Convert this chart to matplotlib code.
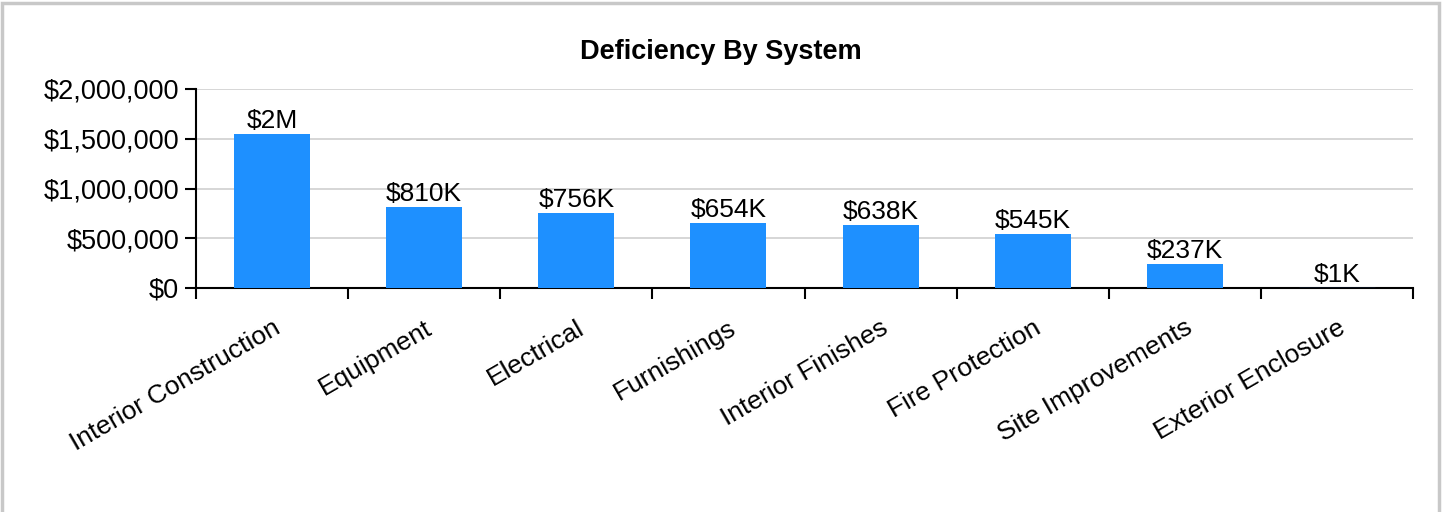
import numpy as np
import matplotlib.pyplot as plt
from matplotlib.ticker import FuncFormatter, MultipleLocator
from matplotlib.patches import Rectangle

systems = ['Interior Construction', 'Equipment', 'Electrical', 'Furnishings',
           'Interior Finishes', 'Fire Protection', 'Site Improvements',
           'Exterior Enclosure']
costs = [1550000, 810000, 756000, 654000, 638000, 545000, 237000, 1000]
labels = ['$2M', '$810K', '$756K', '$654K', '$638K', '$545K', '$237K', '$1K']

plt.rcParams['font.family'] = ['Liberation Sans', 'DejaVu Sans']

fig = plt.figure(figsize=(14.42, 5.12), dpi=100)
ax = fig.add_axes([196/1442, 1 - 288/512, (1413-196)/1442, (288-89)/512])

x = np.arange(len(systems))
ax.bar(x, costs, width=0.5, color='#1E90FF', edgecolor='#1a4f9a',
       linewidth=0, zorder=3)
ax.hlines(costs[-1], x[-1] - 0.25, x[-1] + 0.25, color='#1a3f7a', linewidth=1, zorder=3)
for xi, v, lb in zip(x, costs, labels):
  ax.text(xi, v + 10000, lb, ha='center', va='bottom', fontsize=19, zorder=4)

ax.set_xlim(-0.5, len(systems) - 0.5)
ax.set_ylim(0, 2000000)
ax.yaxis.set_major_locator(MultipleLocator(500000))
ax.yaxis.set_major_formatter(FuncFormatter(lambda v, p: '${:,.0f}'.format(v)))
ax.grid(axis='y', color='#d0d0d0', linewidth=1.2, zorder=0)

# ticks at category boundaries, labels at centres
ax.set_xticks(np.arange(len(systems) + 1) - 0.5)
ax.set_xticklabels([])
ax.set_xticks(x, minor=True)
ax.set_xticklabels(systems, minor=True, rotation=30, ha='right',
                   rotation_mode='anchor', fontsize=19)
ax.tick_params(axis='x', which='minor', length=0, pad=20)
ax.tick_params(axis='x', which='major', length=8, width=1.5, direction='out')
ax.tick_params(axis='y', length=8, width=1.5, direction='out', labelsize=19.5, pad=4)

for sp in ['top', 'right']:
  ax.spines[sp].set_visible(False)
for sp in ['left', 'bottom']:
  ax.spines[sp].set_linewidth(1.5)

fig.text(721/1442, 1 - 52/512, 'Deficiency By System', ha='center', va='center',
         fontsize=19.5, fontweight='bold')

fig.patches.append(Rectangle((2/1442, -0.01), 1437/1442, 1 - 3/512 + 0.01,
                             transform=fig.transFigure, fill=False,
                             edgecolor='#c8c8c8', linewidth=2.5))

fig.savefig('out.png', dpi=100)
